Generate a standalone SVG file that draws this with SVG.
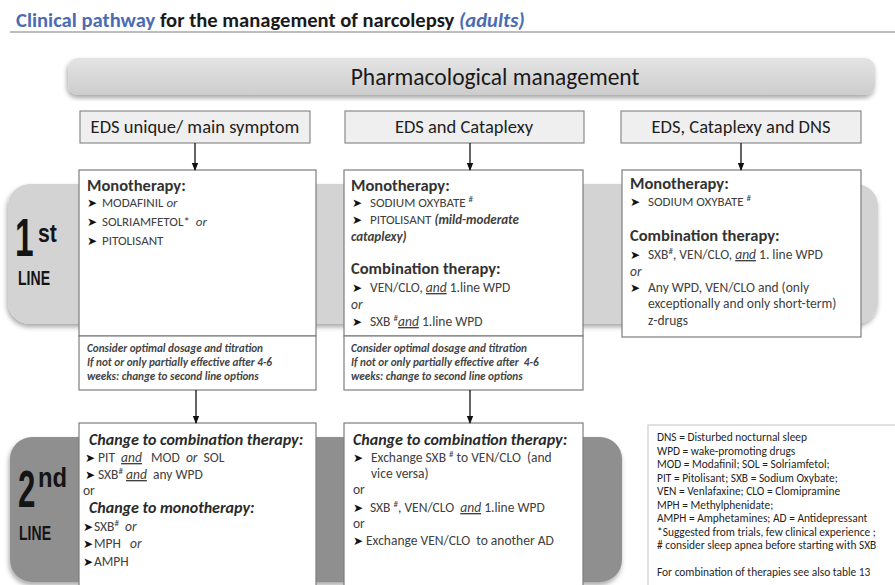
<svg xmlns="http://www.w3.org/2000/svg" width="895" height="585" viewBox="0 0 895 585">
<defs>
<style>
text{font-family:Carlito,Lato,"Liberation Sans",sans-serif;white-space:pre}
.big{font-family:"Liberation Sans",Arimo,sans-serif;fill:#141414;font-weight:bold}
.hd{font-size:18.5px;fill:#1e1e1e;text-anchor:middle}
.h{font-size:16.5px;font-weight:bold;fill:#333}
.hi{font-size:16px;font-weight:bold;font-style:italic;fill:#2a2a2a}
.it{font-size:13px;fill:#404040}
.it2{font-size:13.5px;fill:#404040}
.ar{font-family:"DejaVu Sans",sans-serif;fill:#111;font-size:12px}
.i{font-style:italic}
.u{text-decoration:underline;font-style:italic}
.sup{font-size:9px;baseline-shift:super}
.nt{font-size:11.2px;font-style:italic;font-weight:bold;fill:#444}
.lg{font-size:11.4px;fill:#1f1f1f}
.box{fill:#fff;stroke:#7d7d7d;stroke-width:1.2}
.hbox{fill:#efefef;stroke:#8a8a8a;stroke-width:1.2}
.con{stroke:#111;stroke-width:1.3;fill:none;marker-end:url(#ah)}
</style>
<marker id="ah" markerWidth="8" markerHeight="8" refX="7" refY="4" orient="auto" markerUnits="userSpaceOnUse" viewBox="0 0 8 8">
<path d="M0,0.8 L8,4 L0,7.2 Z" fill="#111"/>
</marker>
<linearGradient id="bg" x1="0" y1="0" x2="0" y2="1">
<stop offset="0" stop-color="#e4e4e4"/><stop offset="1" stop-color="#cdcdcd"/>
</linearGradient>
<filter id="sh" x="-5%" y="-10%" width="110%" height="125%">
<feDropShadow dx="-1" dy="3" stdDeviation="2.5" flood-color="#000" flood-opacity="0.35"/>
</filter>
</defs>

<g id="title">
<text x="16" y="27" font-size="20.6" font-weight="bold"><tspan fill="#4a6cb3">Clinical pathway</tspan><tspan fill="#1a1a1a"> for the management of narcolepsy </tspan><tspan fill="#4a6cb3" font-style="italic">(adults)</tspan></text>
<line x1="10" y1="32" x2="895" y2="32" stroke="#7a7a7a" stroke-width="1"/>
</g>

<g id="band1">
<rect x="8" y="184" width="870" height="140" rx="22" fill="#d3d3d3" filter="url(#sh)"/>
<text class="big" transform="translate(15,256) scale(0.62,1)" font-size="54">1</text>
<text class="big" transform="translate(38,242) scale(0.85,1)" font-size="25">st</text>
<text class="big" transform="translate(18,285) scale(0.67,1)" font-size="21">LINE</text>
</g>

<g id="band2">
<rect x="10" y="437" width="612" height="145" rx="22" fill="#8f8f8f" filter="url(#sh)"/>
<text class="big" transform="translate(18,507) scale(0.6,1)" font-size="52">2</text>
<text class="big" transform="translate(38,487) scale(0.85,1)" font-size="28">nd</text>
<text class="big" transform="translate(19,540) scale(0.67,1)" font-size="21">LINE</text>
</g>

<g id="banner">
<rect x="68" y="58" width="807" height="37" rx="10" fill="url(#bg)" filter="url(#sh)"/>
<text x="495" y="85" font-size="23.5" fill="#1a1a1a" text-anchor="middle">Pharmacological management</text>
</g>

<g id="hdr1"><rect class="hbox" x="80" y="111" width="230" height="32"/><text class="hd" x="195" y="133">EDS unique/ main symptom</text></g>
<g id="hdr2"><rect class="hbox" x="345" y="111" width="239" height="32"/><text class="hd" x="464" y="133">EDS and Cataplexy</text></g>
<g id="hdr3"><rect class="hbox" x="621" y="111" width="240" height="32"/><text class="hd" x="741" y="133">EDS, Cataplexy and DNS</text></g>

<g id="first1">
<rect class="box" x="79" y="170" width="237" height="166"/>
<text class="h" x="87" y="191">Monotherapy:</text>
<text class="ar" x="87" y="207">➤</text><text class="it" x="102" y="207">MODAFINIL <tspan class="i">or</tspan></text>
<text class="ar" x="87" y="226">➤</text><text class="it" x="102" y="226">SOLRIAMFETOL*  <tspan class="i">or</tspan></text>
<text class="ar" x="87" y="245">➤</text><text class="it" x="102" y="245">PITOLISANT</text>
</g>
<g id="note1">
<rect class="box" x="79" y="336" width="237" height="54"/>
<text class="nt" x="87" y="352">Consider optimal dosage and titration</text>
<text class="nt" x="87" y="366">If not or only partially effective after 4-6</text>
<text class="nt" x="87" y="380">weeks: change to second line options</text>
</g>

<g id="first2">
<rect class="box" x="344" y="170" width="239" height="166"/>
<text class="h" x="351" y="191">Monotherapy:</text>
<text class="ar" x="352" y="207">➤</text><text class="it" x="370" y="207">SODIUM OXYBATE <tspan class="sup">#</tspan></text>
<text class="ar" x="352" y="224">➤</text><text class="it" x="370" y="224">PITOLISANT <tspan class="i" font-weight="bold">(mild-moderate</tspan></text>
<text class="it i" x="351" y="241" font-weight="bold">cataplexy)</text>
<text class="h" x="351" y="274">Combination therapy:</text>
<text class="ar" x="352" y="292">➤</text><text class="it2" x="370" y="292">VEN/CLO, <tspan class="u">and</tspan> 1.line WPD</text>
<text class="it2 i" x="351" y="309">or</text>
<text class="ar" x="352" y="326">➤</text><text class="it2" x="370" y="326">SXB <tspan class="sup">#</tspan><tspan class="u">and</tspan> 1.line WPD</text>
</g>
<g id="note2">
<rect class="box" x="344" y="336" width="239" height="54"/>
<text class="nt" x="351" y="352">Consider optimal dosage and titration</text>
<text class="nt" x="351" y="366">If not or only partially effective after  4-6</text>
<text class="nt" x="351" y="380">weeks: change to second line options</text>
</g>

<g id="first3">
<rect class="box" x="622" y="170" width="239" height="167"/>
<text class="h" x="630" y="189">Monotherapy:</text>
<text class="ar" x="630" y="206">➤</text><text class="it" x="648" y="206">SODIUM OXYBATE <tspan class="sup">#</tspan></text>
<text class="h" x="630" y="240.5">Combination therapy:</text>
<text class="ar" x="630" y="259">➤</text><text class="it2" x="648" y="259">SXB<tspan class="sup">#</tspan>, VEN/CLO, <tspan class="u">and</tspan> 1. line WPD</text>
<text class="it2 i" x="630" y="276">or</text>
<text class="ar" x="630" y="292">➤</text><text class="it2" x="648" y="292">Any WPD, VEN/CLO and (only</text>
<text class="it2" x="648" y="308">exceptionally and only short-term)</text>
<text class="it2" x="648" y="325">z-drugs</text>
</g>

<g id="second1">
<rect class="box" x="79" y="423" width="237" height="175"/>
<text class="hi" x="89" y="445">Change to combination therapy:</text>
<text class="ar" x="85" y="462">➤</text><text class="it2" x="98" y="462">PIT  <tspan class="u">and</tspan>   MOD  <tspan class="i">or</tspan>  SOL</text>
<text class="ar" x="85" y="479">➤</text><text class="it2" x="98" y="479">SXB<tspan class="sup">#</tspan> <tspan class="u">and</tspan>  any WPD</text>
<text class="it2" x="83" y="495">or</text>
<text class="hi" x="89" y="513">Change to monotherapy:</text>
<text class="ar" x="83" y="531">➤</text><text class="it2" x="94" y="531">SXB<tspan class="sup">#</tspan>  <tspan class="i">or</tspan></text>
<text class="ar" x="83" y="548">➤</text><text class="it2" x="94" y="548">MPH   <tspan class="i">or</tspan></text>
<text class="ar" x="83" y="566">➤</text><text class="it2" x="94" y="566">AMPH</text>
</g>

<g id="second2">
<rect class="box" x="344" y="423" width="239" height="175"/>
<text class="hi" x="353" y="445">Change to combination therapy:</text>
<text class="ar" x="353" y="462">➤</text><text class="it2" x="371" y="462">Exchange SXB <tspan class="sup">#</tspan> to VEN/CLO  (and</text>
<text class="it2" x="371" y="478">vice versa)</text>
<text class="it2" x="353" y="494">or</text>
<text class="ar" x="353" y="512">➤</text><text class="it2" x="370" y="512">SXB <tspan class="sup">#</tspan>, VEN/CLO  <tspan class="u">and</tspan> 1.line WPD</text>
<text class="it2" x="353" y="528">or</text>
<text class="ar" x="353" y="545">➤</text><text class="it2" x="366" y="545">Exchange VEN/CLO  to another AD</text>
</g>

<g id="legend">
<rect x="648" y="425" width="260" height="170" fill="#fff" stroke="#c4c4c4" stroke-width="1"/>
<text class="lg" x="657" y="441">DNS = Disturbed nocturnal sleep</text>
<text class="lg" x="657" y="454.5">WPD = wake-promoting drugs</text>
<text class="lg" x="657" y="468">MOD = Modafinil; SOL = Solriamfetol;</text>
<text class="lg" x="657" y="481.5">PIT = Pitolisant; SXB = Sodium Oxybate;</text>
<text class="lg" x="657" y="495">VEN = Venlafaxine; CLO = Clomipramine</text>
<text class="lg" x="657" y="508.5">MPH = Methylphenidate;</text>
<text class="lg" x="657" y="522">AMPH = Amphetamines; AD = Antidepressant</text>
<text class="lg" x="657" y="535.5">*Suggested from trials, few clinical experience ;</text>
<text class="lg" x="657" y="549"># consider sleep apnea before starting with SXB</text>
<text class="lg" x="657" y="576">For combination of therapies see also table 13</text>
</g>

<g id="connectors">
<line class="con" x1="195" y1="143" x2="195" y2="170"/>
<line class="con" x1="470" y1="143" x2="470" y2="170"/>
<line class="con" x1="741" y1="143" x2="741" y2="170"/>
<line class="con" x1="196" y1="390" x2="196" y2="423"/>
<line class="con" x1="470" y1="390" x2="470" y2="423"/>
</g>
</svg>
